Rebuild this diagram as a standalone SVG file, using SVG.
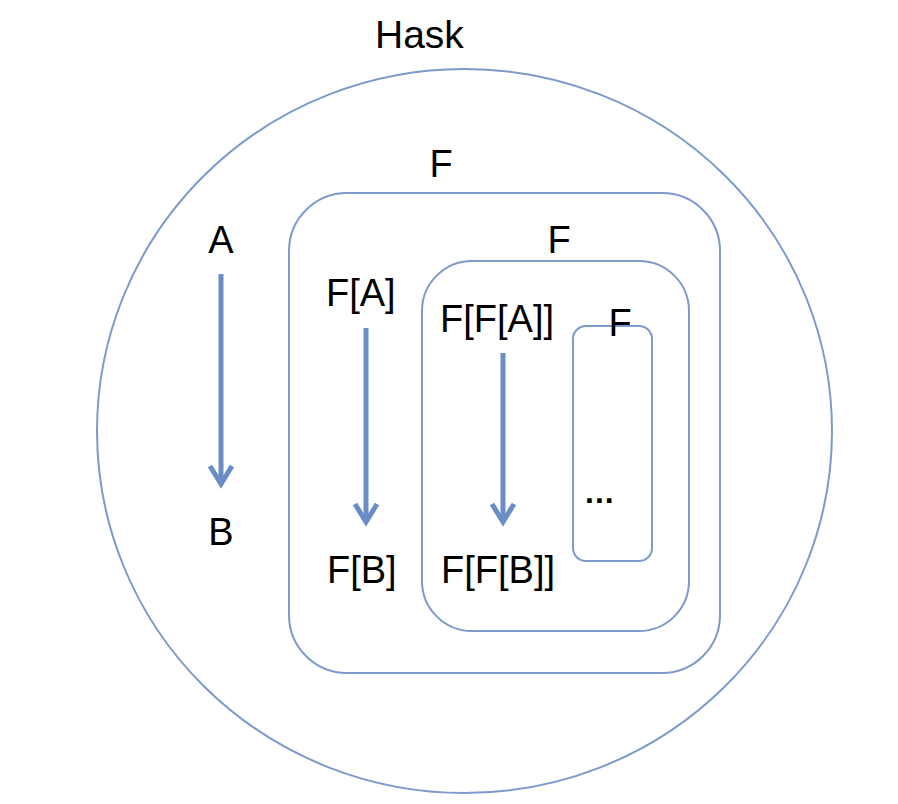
<svg xmlns="http://www.w3.org/2000/svg" width="898" height="804" viewBox="0 0 898 804">
<style>
.frame{fill:none;stroke:#7c9acb;stroke-width:2}
.lbl{font-family:"Liberation Sans",Arial,sans-serif;font-size:38px;fill:#000}
.mid{text-anchor:middle}
.arr{fill:none;stroke:#6a8dc6;stroke-width:5;stroke-linecap:butt}
</style>
<rect width="898" height="804" fill="#fff"/>
<g id="hask">
<ellipse class="frame" cx="464.5" cy="431" rx="367.5" ry="362"/>
<text class="lbl" x="375" y="48" style="font-size:39px">Hask</text>
</g>
<g id="f1">
<rect class="frame" x="289" y="193" width="431" height="480" rx="58" ry="58"/>
<text class="lbl mid" x="441" y="177">F</text>
</g>
<g id="f2">
<rect class="frame" x="422" y="261" width="267" height="370" rx="50" ry="50"/>
<text class="lbl mid" x="559" y="253">F</text>
</g>
<g id="f3">
<rect class="frame" x="573" y="326" width="79" height="235" rx="13" ry="13"/>
<text class="lbl mid" x="620" y="336">F</text>
<text class="lbl" x="585" y="503" style="font-size:32px;font-weight:bold;letter-spacing:1px">...</text>
</g>
<g id="a"><text class="lbl mid" x="221" y="253">A</text></g>
<g id="b"><text class="lbl mid" x="221" y="545">B</text></g>
<g id="fa"><text class="lbl" x="326" y="306">F[A]</text></g>
<g id="fb"><text class="lbl" x="327" y="583">F[B]</text></g>
<g id="ffa"><text class="lbl" x="440" y="332">F[F[A]]</text></g>
<g id="ffb"><text class="lbl" x="441" y="583">F[F[B]]</text></g>
<g id="connectors">
<line class="arr" x1="221" y1="274" x2="221" y2="484"/>
<polyline class="arr" points="210,466 221,484 232,466"/>
<line class="arr" x1="366" y1="328" x2="366" y2="522"/>
<polyline class="arr" points="355,504 366,522 377,504"/>
<line class="arr" x1="503" y1="353" x2="503" y2="522"/>
<polyline class="arr" points="492,504 503,522 514,504"/>
</g>
</svg>
